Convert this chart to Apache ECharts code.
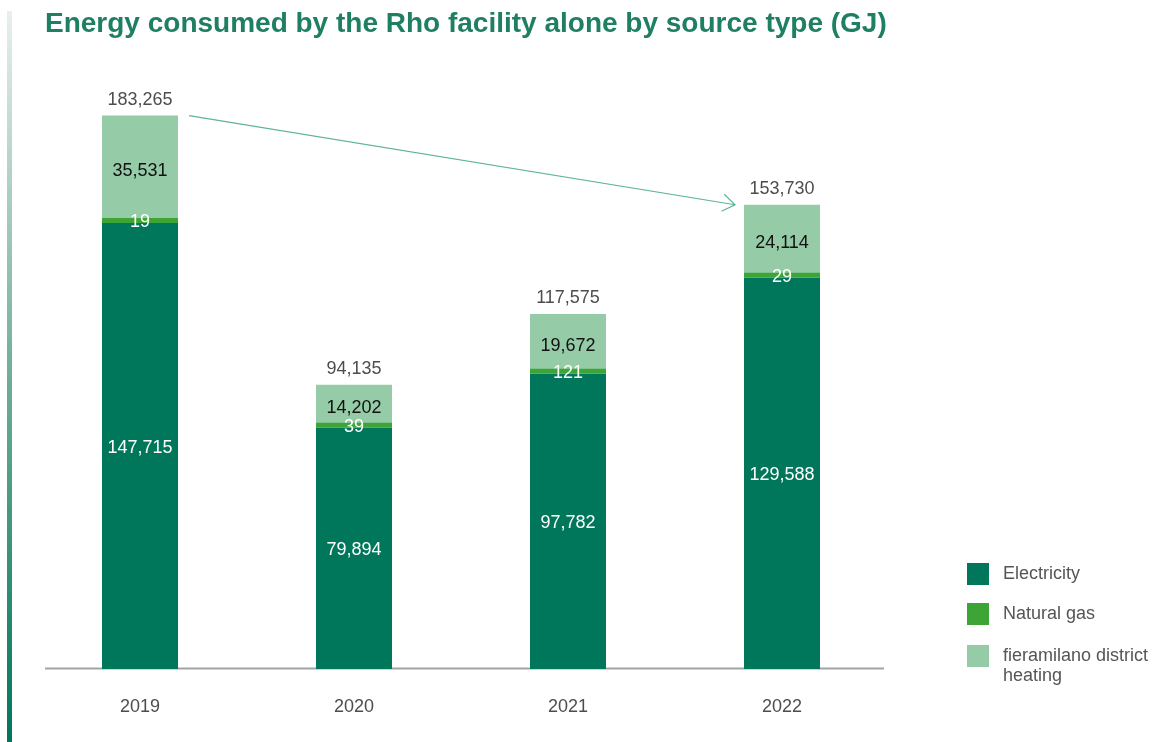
<!DOCTYPE html>
<html><head><meta charset="utf-8">
<script src="https://cdn.jsdelivr.net/npm/echarts/dist/echarts.min.js"></script>
<style>html,body{margin:0;padding:0;background:#fff}#c{width:1159px;height:742px}</style>
</head><body><div id="c"></div>
<script>
const years = ['2019', '2020', '2021', '2022'];
const electricity = [147715, 79894, 97782, 129588];
const naturalGas = [19, 39, 121, 29];
const districtHeating = [35531, 14202, 19672, 24114];
const totals = [183265, 94135, 117575, 153730];
const seriesNames = ['Electricity', 'Natural gas', 'fieramilano district heating'];
const titleText = 'Energy consumed by the Rho facility alone by source type (GJ)';

const FONT = "'Liberation Sans', Arial, Helvetica, sans-serif";
const C_ELEC = '#00765a', C_GAS = '#3ca535', C_HEAT = '#95cba7';
const fmt = v => Number(v).toLocaleString('en-US');

const chart = echarts.init(document.getElementById('c'), null, {renderer: 'canvas'});
const BAR_W = 76;
chart.setOption({
  animation: false,
  backgroundColor: '#fff',
  textStyle: {fontFamily: FONT},
  title: {
    text: titleText, left: 45, top: 10, padding: 0,
    textStyle: {fontFamily: FONT, fontSize: 28, fontWeight: 'bold', color: '#1f7f62'}
  },
  grid: {left: 33, width: 856, top: 65, bottom: 73, containLabel: false},
  xAxis: {
    type: 'category', data: years,
    axisLine: {show: false}, axisTick: {show: false},
    axisLabel: {color: '#4d4d4d', fontSize: 18, margin: 29, fontFamily: FONT}
  },
  yAxis: {type: 'value', min: 0, max: 200000, show: false, splitLine: {show: false}},
  legend: [
    {
      data: [seriesNames[0], seriesNames[1]],
      orient: 'vertical', left: 967, top: 563, padding: 0,
      itemWidth: 22, itemHeight: 22, itemGap: 18, icon: 'rect',
      selectedMode: false,
      textStyle: {fontFamily: FONT, fontSize: 18, color: '#555', padding: [0, 0, 0, 9]}
    },
    {
      data: [seriesNames[2]],
      orient: 'vertical', left: 967, top: 626, padding: 0,
      itemWidth: 22, itemHeight: 22, icon: 'rect',
      selectedMode: false,
      formatter: n => '\n' + n.replace(' district ', ' district\n'),
      textStyle: {fontFamily: FONT, fontSize: 18, lineHeight: 20, color: '#555', padding: [0, 0, 0, 9]}
    }
  ],
  series: [
    {
      name: seriesNames[0], type: 'bar', stack: 'e', data: electricity, barWidth: BAR_W,
      itemStyle: {color: C_ELEC},
      label: {show: true, position: 'inside', color: '#fff', fontSize: 18, fontFamily: FONT, offset: [0, 2], formatter: p => fmt(p.value)}
    },
    {
      name: seriesNames[1], type: 'bar', stack: 'e', data: naturalGas, barWidth: BAR_W,
      barMinHeight: 5, z: 3,
      itemStyle: {color: C_GAS},
      label: {show: true, position: 'inside', color: '#fff', fontSize: 18, fontFamily: FONT, offset: [0, 2], formatter: p => fmt(p.value)}
    },
    {
      name: seriesNames[2], type: 'bar', stack: 'e', data: districtHeating, barWidth: BAR_W,
      itemStyle: {color: C_HEAT},
      label: {show: true, position: 'inside', color: '#111', fontSize: 18, fontFamily: FONT, offset: [0, 2], formatter: p => fmt(p.value)}
    },
    {
      name: 'Total', type: 'bar', stack: 'e', data: totals.map(() => 0), barWidth: BAR_W,
      silent: true, itemStyle: {color: 'rgba(0,0,0,0)'},
      label: {show: true, position: 'top', distance: 7, color: '#4d4d4d', fontSize: 18, fontFamily: FONT,
        formatter: p => fmt(totals[p.dataIndex])}
    }
  ]
});

// decorations + arrow computed through the chart's own scales
const p0 = chart.convertToPixel({seriesIndex: 0}, [0, totals[0]]);
const p3 = chart.convertToPixel({seriesIndex: 0}, [3, totals[3]]);
const base = chart.convertToPixel({seriesIndex: 0}, [0, 0]);
const sx = p0[0] + BAR_W / 2 + 11, sy = p0[1];
const ex = p3[0] - BAR_W / 2 - 9, ey = p3[1];
const ang = Math.atan2(ey - sy, ex - sx);
const L = 15, A = 35 * Math.PI / 180;
const w1 = [ex - L * Math.cos(ang - A), ey - L * Math.sin(ang - A)];
const w2 = [ex - L * Math.cos(ang + A), ey - L * Math.sin(ang + A)];
const ARROW = '#5cb596';
chart.setOption({
  graphic: [
    {type: 'rect', left: 7, top: 11, z: 0, silent: true,
      shape: {width: 5, height: 731},
      style: {fill: new echarts.graphic.LinearGradient(0, 0, 0, 1, [
        {offset: 0, color: '#e9efec'}, {offset: 0.5, color: '#6fae97'}, {offset: 1, color: '#00765a'}])}},
    {type: 'line', z: 0, silent: true,
      shape: {x1: 45, y1: base[1] - 0.5, x2: 884, y2: base[1] - 0.5},
      style: {stroke: '#a3a3a3', lineWidth: 2}},
    {type: 'line', z: 5, silent: true,
      shape: {x1: sx, y1: sy, x2: ex, y2: ey}, style: {stroke: ARROW, lineWidth: 1.2}},
    {type: 'polyline', z: 5, silent: true,
      shape: {points: [w1, [ex, ey], w2]}, style: {stroke: ARROW, lineWidth: 1.2, fill: null}}
  ]
});
</script>
</body></html>
